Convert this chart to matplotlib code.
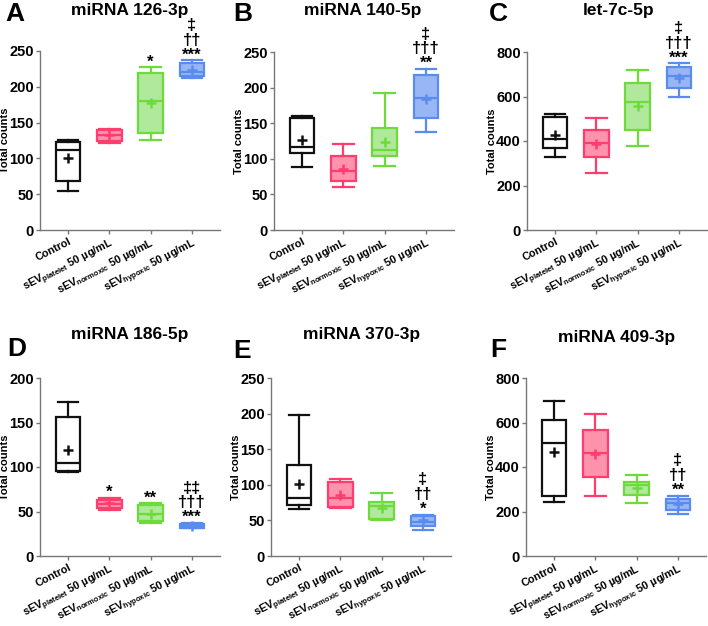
import matplotlib
matplotlib.use("Agg")
import matplotlib.pyplot as plt

plt.rcParams['font.family'] = ['Liberation Sans', 'DejaVu Sans']
plt.rcParams['font.weight'] = 'bold'
plt.rcParams['mathtext.fontset'] = 'custom'
plt.rcParams['mathtext.rm'] = 'Liberation Sans:bold'
plt.rcParams['mathtext.bf'] = 'Liberation Sans:bold'
plt.rcParams['mathtext.default'] = 'bf'

groups = ['Control',
          r'sEV$_{\mathbf{platelet}}$ 50 µg/mL',
          r'sEV$_{\mathbf{normoxic}}$ 50 µg/mL',
          r'sEV$_{\mathbf{hypoxic}}$ 50 µg/mL']
edge_colors = ['#111111', '#ff3d6e', '#6ddc3a', '#5a8cf0']
fill_colors = ['white', '#ff93ad', '#b0e89c', '#98b6f4']

titles = ['miRNA 126-3p', 'miRNA 140-5p', 'let-7c-5p',
          'miRNA 186-5p', 'miRNA 370-3p', 'miRNA 409-3p']
letters = ['A', 'B', 'C', 'D', 'E', 'F']
ymax = [250, 250, 800, 200, 250, 800]
ystep = [50, 50, 200, 50, 50, 200]

# per panel, per group: (whislo, q1, med, q3, whishi, mean)
box_126 = [(55, 68, 112, 123, 126, 100), (121, 125, 132, 139, 141, 132),
           (126, 135, 180, 219, 227, 178), (212, 215, 220, 233, 237, 223)]
box_140 = [(89, 108, 116, 158, 160, 126), (60, 69, 83, 104, 121, 86),
           (90, 104, 112, 143, 193, 124), (138, 157, 186, 217, 226, 184)]
box_let7c = [(330, 367, 407, 508, 520, 426), (257, 329, 392, 450, 505, 387),
             (378, 448, 575, 660, 720, 559), (598, 637, 693, 733, 749, 684)]
box_186 = [(94, 96, 105, 156, 173, 119), (52, 54, 58, 63, 65, 59),
           (37, 39, 47, 57, 59, 47), (31, 32, 34, 36, 37, 34)]
box_370 = [(66, 71, 81, 128, 198, 101), (67, 69, 82, 104, 108, 86),
           (50, 52, 70, 76, 89, 68), (37, 42, 48, 56, 58, 50)]
box_409 = [(244, 271, 510, 610, 695, 469), (270, 356, 463, 568, 637, 457),
           (239, 274, 320, 333, 366, 306), (188, 207, 240, 256, 270, 232)]
panels = [box_126, box_140, box_let7c, box_186, box_370, box_409]

# significance marks, top line first
marks = [
    ['', '', '*', '‡\n††\n***'],
    ['', '', '', '‡\n†††\n**'],
    ['', '', '', '‡\n†††\n***'],
    ['', '*', '**', '‡‡\n†††\n***'],
    ['', '', '', '‡\n††\n*'],
    ['', '', '', '‡\n††\n**'],
]

W, H = 708, 626
fig = plt.figure(figsize=(W / 100, H / 100), dpi=100)

# axes boxes in pixels: left, top, right, bottom
ax_px = [(40, 51, 220, 230), (274, 52, 454, 230), (527, 52, 707, 230),
         (40, 378, 220, 556), (271, 378, 451, 556), (526, 378, 706, 556)]
title_px = [(130, 10), (363, 10), (619, 10), (130, 335), (362, 335), (617, 337)]
letter_px = [(15, 14), (243, 14), (498, 14), (17, 349), (242, 351), (498, 350)]

for i in range(6):
    l, t, r, b = ax_px[i]
    ax = fig.add_axes([l / W, 1 - b / H, (r - l) / W, (b - t) / H])
    stats = panels[i]
    for j, s in enumerate(stats):
        d = dict(whislo=s[0], q1=s[1], med=s[2], q3=s[3], whishi=s[4],
                 mean=s[5], fliers=[])
        c = edge_colors[j]
        ax.bxp([d], positions=[j], widths=0.6, capwidths=0.5,
               patch_artist=True, showmeans=True, showfliers=False,
               boxprops=dict(facecolor=fill_colors[j], edgecolor=c, linewidth=1.6),
               whiskerprops=dict(color=c, linewidth=1.6),
               capprops=dict(color=c, linewidth=1.6),
               medianprops=dict(color=c, linewidth=1.6),
               meanprops=dict(marker='+', markeredgecolor=c, markersize=7,
                              markeredgewidth=1.8))
        if marks[i][j]:
            ax.annotate(marks[i][j], (j, s[4]), xytext=(0, -1.5),
                        textcoords='offset points', ha='center', va='bottom',
                        multialignment='center', linespacing=0.98,
                        fontsize=12, fontweight='bold', annotation_clip=False)
    ax.set_xlim(-0.68, 3.68)
    ax.set_ylim(0, ymax[i])
    ax.set_yticks(range(0, ymax[i] + 1, ystep[i]))
    ax.set_xticks(range(4))
    ax.set_xticklabels(groups, rotation=27, ha='right', rotation_mode='anchor',
                       fontsize=7.8, fontweight='bold')
    for lab in ax.get_yticklabels():
        lab.set_fontsize(10.5)
        lab.set_fontweight('bold')
    for sp in ['top', 'right']:
        ax.spines[sp].set_visible(False)
    for sp in ['left', 'bottom']:
        ax.spines[sp].set_color('#777777')
        ax.spines[sp].set_linewidth(1.0)
    ax.tick_params(axis='both', colors='#777777', length=3, width=1.0, pad=1.5,
                   labelcolor='black')
    ax.set_ylabel('Total counts', fontsize=8, fontweight='bold')
    ax.yaxis.set_label_coords(-0.165, 0.5)
    fig.text(title_px[i][0] / W, 1 - title_px[i][1] / H, titles[i],
             ha='center', va='center', fontsize=12.5, fontweight='bold')
    fig.text(letter_px[i][0] / W, 1 - letter_px[i][1] / H, letters[i],
             ha='center', va='center', fontsize=19, fontweight='bold')

fig.savefig('out.png', dpi=100)
